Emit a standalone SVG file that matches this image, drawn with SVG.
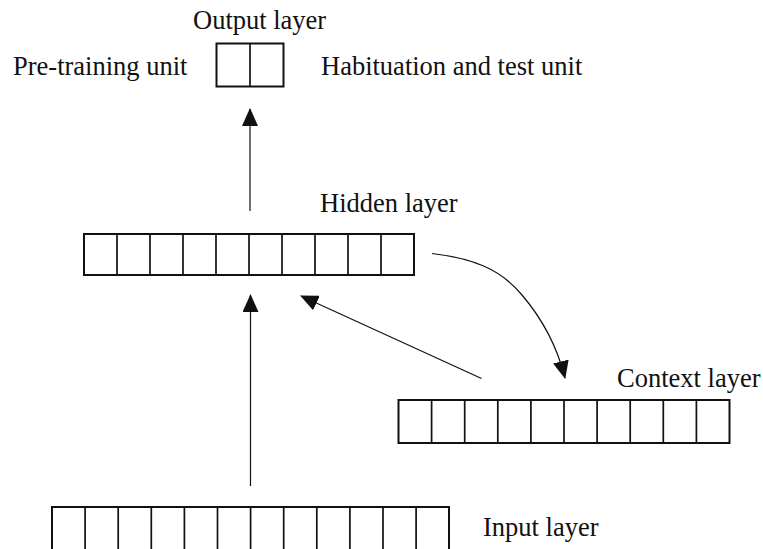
<svg xmlns="http://www.w3.org/2000/svg" width="763" height="549" viewBox="0 0 763 549">
  <style>
    .lbl { font-family: "Liberation Serif", "Times New Roman", serif; font-size: 26.5px; fill: #111; }
    .cell { fill: #fff; stroke: #111; stroke-width: 2; }
    .div { stroke: #111; stroke-width: 1.7; }
    .wire { fill: none; stroke: #111; stroke-width: 1.2; }
  </style>
  <defs>
    <marker id="head" viewBox="0 0 18 16" refX="17" refY="8" markerWidth="18" markerHeight="16" markerUnits="userSpaceOnUse" orient="auto">
      <path d="M0,0 L18,8 L0,16 Z" fill="#111"/>
    </marker>
  </defs>

  <rect width="763" height="549" fill="#fff"/>

  <!-- Output layer: two units -->
  <g id="output-layer">
    <text class="lbl" x="193" y="29">Output layer</text>
    <rect class="cell" x="216.5" y="43.5" width="67" height="43"/>
    <line class="div" x1="250" y1="43.5" x2="250" y2="86.5"/>
    <text class="lbl" x="13" y="75">Pre-training unit</text>
    <text class="lbl" x="321" y="75">Habituation and test unit</text>
  </g>

  <!-- Hidden layer: ten units -->
  <g id="hidden-layer">
    <text class="lbl" x="320" y="212">Hidden layer</text>
    <rect class="cell" x="84" y="234" width="330" height="41"/>
    <path class="div" d="M117,234V275 M150,234V275 M183,234V275 M216,234V275 M249,234V275 M282,234V275 M315,234V275 M348,234V275 M381,234V275"/>
  </g>

  <!-- Context layer: ten units -->
  <g id="context-layer">
    <text class="lbl" x="617" y="387">Context layer</text>
    <rect class="cell" x="398.5" y="400" width="331" height="43"/>
    <path class="div" d="M431.6,400V443 M464.7,400V443 M497.8,400V443 M530.9,400V443 M564,400V443 M597.1,400V443 M630.2,400V443 M663.3,400V443 M696.4,400V443"/>
  </g>

  <!-- Input layer: twelve units -->
  <g id="input-layer">
    <text class="lbl" x="483" y="536">Input layer</text>
    <rect class="cell" x="52" y="507" width="397" height="60"/>
    <path class="div" d="M85.1,507V549 M118.2,507V549 M151.3,507V549 M184.4,507V549 M217.5,507V549 M250.6,507V549 M283.7,507V549 M316.8,507V549 M349.9,507V549 M383,507V549 M416.1,507V549"/>
  </g>

  <!-- Connectors -->
  <g id="connectors">
    <line class="wire" x1="250" y1="211" x2="250" y2="109" marker-end="url(#head)"/>
    <line class="wire" x1="250.5" y1="486" x2="250.5" y2="295" marker-end="url(#head)"/>
    <line class="wire" x1="481.5" y1="378.5" x2="301" y2="296" marker-end="url(#head)"/>
    <path class="wire" d="M432,253.5 C470,258 500,268 522,295 C545,322 558,350 565,378" marker-end="url(#head)"/>
  </g>
</svg>
